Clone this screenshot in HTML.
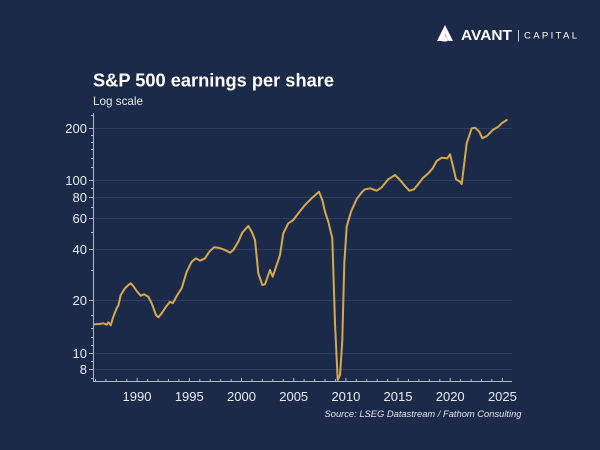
<!DOCTYPE html>
<html><head><meta charset="utf-8"><style>
html,body{margin:0;padding:0;background:#1c2a4a;}
svg{display:block;}
</style></head><body>
<svg width="600" height="450" viewBox="0 0 600 450" xmlns="http://www.w3.org/2000/svg">
<rect width="600" height="450" fill="#1c2a4a"/>
<g fill="#ffffff">
<path d="M445 25 L453 41 L448.5 41 L445 34 L441.5 41 L437 41 Z"/>
<path d="M444.5 34.5 L447.5 39 Q449 41 446 41.5 L443 41.5 Q440.5 41 442 38.5 Z"/>
</g>
<text x="461" y="40" font-family="Liberation Sans, sans-serif" font-weight="bold" font-size="14.5" fill="#ffffff" textLength="51" lengthAdjust="spacingAndGlyphs">AVANT</text>
<rect x="518" y="30" width="1" height="11.5" fill="#c8cfdc"/>
<text x="524" y="38.5" font-family="Liberation Sans, sans-serif" font-size="9.5" fill="#ffffff" textLength="53" lengthAdjust="spacing">CAPITAL</text>
<text x="93" y="86.5" font-family="Liberation Sans, sans-serif" font-weight="bold" font-size="18.5" fill="#ffffff" textLength="241" lengthAdjust="spacingAndGlyphs">S&amp;P 500 earnings per share</text>
<text x="93" y="105" font-family="Liberation Sans, sans-serif" font-size="12" fill="#e8ecf2" textLength="50" lengthAdjust="spacingAndGlyphs">Log scale</text>
<g stroke="#2e3d5e" stroke-width="1">
<line x1="94" y1="128.5" x2="512" y2="128.5"/>
<line x1="94" y1="180.5" x2="512" y2="180.5"/>
<line x1="94" y1="197.5" x2="512" y2="197.5"/>
<line x1="94" y1="218.5" x2="512" y2="218.5"/>
<line x1="94" y1="249.5" x2="512" y2="249.5"/>
<line x1="94" y1="300.5" x2="512" y2="300.5"/>
<line x1="94" y1="353.5" x2="512" y2="353.5"/>
<line x1="94" y1="369.5" x2="512" y2="369.5"/>
</g>
<g stroke="#aeb8cb" stroke-width="1">
<line x1="93.5" y1="113" x2="93.5" y2="382"/>
<line x1="93" y1="381.5" x2="512" y2="381.5"/>
<line x1="89" y1="128.5" x2="93" y2="128.5"/>
<line x1="89" y1="180.5" x2="93" y2="180.5"/>
<line x1="89" y1="197.5" x2="93" y2="197.5"/>
<line x1="89" y1="218.5" x2="93" y2="218.5"/>
<line x1="89" y1="249.5" x2="93" y2="249.5"/>
<line x1="89" y1="300.5" x2="93" y2="300.5"/>
<line x1="89" y1="353.5" x2="93" y2="353.5"/>
<line x1="89" y1="369.5" x2="93" y2="369.5"/>
<line x1="91" y1="270.5" x2="93" y2="270.5"/>
<line x1="91" y1="232.5" x2="93" y2="232.5"/>
<line x1="91" y1="207.5" x2="93" y2="207.5"/>
<line x1="91" y1="188.5" x2="93" y2="188.5"/>
<line x1="91" y1="361.5" x2="93" y2="361.5"/>
<line x1="91" y1="378.5" x2="93" y2="378.5"/>
<line x1="91" y1="345.5" x2="93" y2="345.5"/>
<line x1="91" y1="337.5" x2="93" y2="337.5"/>
<line x1="91" y1="328.5" x2="93" y2="328.5"/>
<line x1="91" y1="315.5" x2="93" y2="315.5"/>
<line x1="91" y1="135.5" x2="93" y2="135.5"/>
<line x1="91" y1="142.5" x2="93" y2="142.5"/>
<line x1="91" y1="149.5" x2="93" y2="149.5"/>
<line x1="91" y1="158.5" x2="93" y2="158.5"/>
<line x1="91" y1="167.5" x2="93" y2="167.5"/>
<line x1="91" y1="115.5" x2="93" y2="115.5"/>
<line x1="95.5" y1="379" x2="95.5" y2="381"/>
<line x1="105.9" y1="379" x2="105.9" y2="381"/>
<line x1="116.3" y1="379" x2="116.3" y2="381"/>
<line x1="126.8" y1="379" x2="126.8" y2="381"/>
<line x1="137.2" y1="378" x2="137.2" y2="381"/>
<line x1="147.6" y1="379" x2="147.6" y2="381"/>
<line x1="158.1" y1="379" x2="158.1" y2="381"/>
<line x1="168.5" y1="379" x2="168.5" y2="381"/>
<line x1="178.9" y1="379" x2="178.9" y2="381"/>
<line x1="189.4" y1="378" x2="189.4" y2="381"/>
<line x1="199.8" y1="379" x2="199.8" y2="381"/>
<line x1="210.2" y1="379" x2="210.2" y2="381"/>
<line x1="220.7" y1="379" x2="220.7" y2="381"/>
<line x1="231.1" y1="379" x2="231.1" y2="381"/>
<line x1="241.5" y1="378" x2="241.5" y2="381"/>
<line x1="252" y1="379" x2="252" y2="381"/>
<line x1="262.4" y1="379" x2="262.4" y2="381"/>
<line x1="272.8" y1="379" x2="272.8" y2="381"/>
<line x1="283.3" y1="379" x2="283.3" y2="381"/>
<line x1="293.7" y1="378" x2="293.7" y2="381"/>
<line x1="304.1" y1="379" x2="304.1" y2="381"/>
<line x1="314.6" y1="379" x2="314.6" y2="381"/>
<line x1="325" y1="379" x2="325" y2="381"/>
<line x1="335.4" y1="379" x2="335.4" y2="381"/>
<line x1="345.9" y1="378" x2="345.9" y2="381"/>
<line x1="356.3" y1="379" x2="356.3" y2="381"/>
<line x1="366.7" y1="379" x2="366.7" y2="381"/>
<line x1="377.2" y1="379" x2="377.2" y2="381"/>
<line x1="387.6" y1="379" x2="387.6" y2="381"/>
<line x1="398" y1="378" x2="398" y2="381"/>
<line x1="408.5" y1="379" x2="408.5" y2="381"/>
<line x1="418.9" y1="379" x2="418.9" y2="381"/>
<line x1="429.3" y1="379" x2="429.3" y2="381"/>
<line x1="439.8" y1="379" x2="439.8" y2="381"/>
<line x1="450.2" y1="378" x2="450.2" y2="381"/>
<line x1="460.6" y1="379" x2="460.6" y2="381"/>
<line x1="471.1" y1="379" x2="471.1" y2="381"/>
<line x1="481.5" y1="379" x2="481.5" y2="381"/>
<line x1="491.9" y1="379" x2="491.9" y2="381"/>
<line x1="502.4" y1="378" x2="502.4" y2="381"/>
</g>
<g font-family="Liberation Sans, sans-serif" font-size="13" fill="#e8ecf2" text-anchor="end">
<text x="87" y="133">200</text>
<text x="87" y="185">100</text>
<text x="87" y="202">80</text>
<text x="87" y="223">60</text>
<text x="87" y="254">40</text>
<text x="87" y="305">20</text>
<text x="87" y="358">10</text>
<text x="87" y="374">8</text>
</g>
<g font-family="Liberation Sans, sans-serif" font-size="13" fill="#e8ecf2" text-anchor="middle">
<text x="137" y="401">1990</text>
<text x="189.3" y="401">1995</text>
<text x="241.5" y="401">2000</text>
<text x="293.7" y="401">2005</text>
<text x="345.9" y="401">2010</text>
<text x="398" y="401">2015</text>
<text x="450.2" y="401">2020</text>
<text x="502.4" y="401">2025</text>
</g>
<text x="521.5" y="417" font-family="Liberation Sans, sans-serif" font-style="italic" font-size="9.5" fill="#dfe4ec" text-anchor="end" textLength="197" lengthAdjust="spacingAndGlyphs">Source: LSEG Datastream / Fathom Consulting</text>
<polyline fill="none" stroke="#d6a84c" stroke-width="2" stroke-linejoin="round" stroke-linecap="round" points="94,324.5 95,324.3 99,324 103.3,323.3 105,324 106.7,324.7 108.3,322.3 110.7,325.3 113.3,316.7 116.7,308.3 118.5,305 120.7,295 125,288.3 128.5,285 130.7,283.3 133.3,286 136.7,291 140.7,295.7 144,294.3 148.3,296.7 151.7,303.3 156,315 158.3,317.3 161.7,313.3 166,306.7 170,301.7 172.7,303.3 177.3,295 181.7,288.3 186.7,271.7 191.7,261.7 196,258.3 200,260.7 205,258.3 209.3,251.7 214,247.3 218.3,247.7 223.3,249.3 228,251.5 230,252.7 233.3,250 238.3,241.7 242.3,232.7 248.3,226 251.7,231.7 255,240 258.3,273.3 262.3,285 265,284.3 270,270 272.7,276.7 276.7,265 280,255 283.3,233.3 288.3,223.3 293.3,220 298.3,213.3 305,205 311.7,198.3 319,191.7 322.3,200 325,211.7 328.3,221.7 332.3,238.3 335,323.3 337.7,380 340,375 342.3,340 344.3,263.3 346.7,226.7 351,211.7 356.7,199 362.3,191.7 365,189.3 370,188.3 376.7,190.7 381.7,187.3 388.3,179.3 395,175 400,180 405,186 409.3,190.7 414,189.3 418.3,184 422.7,178.3 428.3,173.3 432.7,168.3 436.7,161 441.7,157.7 447.3,158.3 450,154.3 452.7,165 456,179.3 460,181.7 461.7,184 466.7,143.3 471.7,128.3 475,127.7 479.3,131.7 482.3,138.3 487.3,135.7 492.7,130 498.3,126.7 501.7,123.3 506.7,120"/>
</svg>
</body></html>
